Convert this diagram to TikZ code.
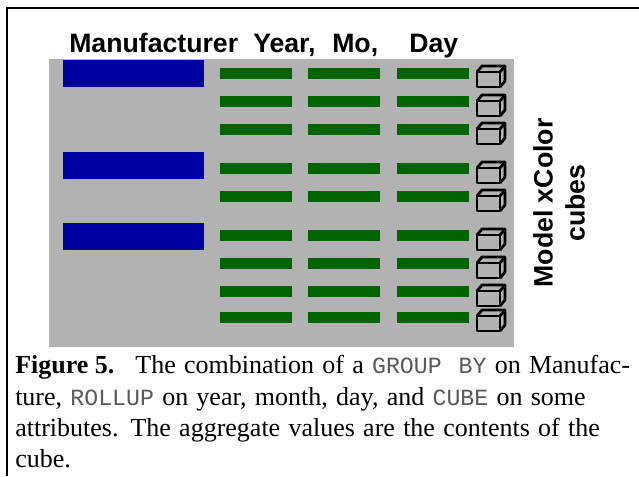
\documentclass[tikz,border=0pt]{standalone}
\usepackage{fontspec}
\setmainfont{Liberation Serif}
\setsansfont{Liberation Sans}
\setmonofont{Liberation Mono}
\usetikzlibrary{positioning}
\definecolor{panelgray}{RGB}{178,178,178}
\definecolor{mfrblue}{RGB}{0,0,160}
\definecolor{rollgreen}{RGB}{0,100,0}
\newcommand{\capfont}{\fontsize{19.5}{21}\selectfont\spaceskip=6.2pt\relax}
\tikzstyle{mfrbar} = [rectangle, minimum width=105.75pt, minimum height=19.8pt, inner sep=0pt, fill=mfrblue]
\tikzstyle{rollbar} = [rectangle, minimum width=54pt, minimum height=8pt, inner sep=0pt, fill=rollgreen]
\tikzstyle{heading} = [font=\sffamily\bfseries\fontsize{20}{22}\selectfont, inner sep=0pt]
\tikzstyle{sidelabel} = [font=\sffamily\bfseries\fontsize{20}{24}\selectfont, inner sep=0pt, rotate=90, align=center]
\tikzstyle{captionline} = [font=\capfont, inner sep=0pt, anchor=base west]
\tikzstyle{cubeline} = [line width=2.1pt, line join=round]
\newcommand{\codeword}[1]{{\ttfamily\fontsize{17.4}{18}\selectfont\color{black!65}#1}}
% front corner, width 23, height 15, depth (5,-6)
\newcommand{\cubeat}[1]{%
  \draw [cubeline] (477,#1) rectangle (500,#1+15);
  \draw [cubeline] (477,#1) -- (482,#1-6) -- (505,#1-6) -- (505,#1+9) -- (500,#1+15);
  \draw [cubeline] (500,#1) -- (505,#1-6);
}

\begin{document}
\begin{tikzpicture}[x=0.75pt, y=-0.75pt]
\useasboundingbox (0,0) rectangle (639,476);

% Frame and panel
\draw [line width=1.5pt] (7,476) -- (7,8) -- (639,8);
\fill [panelgray] (49,59) rectangle (514,347);

% Column headings
\node (manufacturer) [heading, anchor=base west] at (69,52) {Manufacturer};
\node (year) [heading, anchor=base west] at (253,52) {Year,};
\node (mo) [heading, anchor=base west] at (332,52) {Mo,};
\node (day) [heading, anchor=base west] at (409,52) {Day};

% Manufacturer bars
\node (mfr-a) [mfrbar, anchor=north west] at (63,60) {};
\node (mfr-b) [mfrbar, anchor=north west] at (63,152) {};
\node (mfr-c) [mfrbar, anchor=north west] at (63,223) {};

% Rollup bars and cubes
\foreach \rowy in {68,96,124,163,191,230,258,286,312} {
  \node [rollbar, anchor=north west] at (220,\rowy) {};
  \node [rollbar, anchor=north west] at (308,\rowy) {};
  \node [rollbar, anchor=north west] at (397,\rowy) {};
}
\foreach \cubey in {72,101,129,168,196,235,263,291,316} {
  \cubeat{\cubey}
}

% Side label
\node (cubes-label) [sidelabel] at (559,203) {Model xColor\\cubes};

% Caption
\node (cap-a) [captionline] at (15,373) {\textbf{Figure\hspace{0.25em}5.}\hspace{15.75pt}The combination of a \codeword{GROUP\hspace{12.75pt}BY} on Manufac-};
\node (cap-b) [captionline] at (15,405) {ture, \codeword{ROLLUP} on year, month, day, and \codeword{CUBE} on some};
\node (cap-c) [captionline] at (15,436) {attributes.\hspace{9pt}The aggregate values are the contents of the};
\node (cap-d) [captionline] at (15,467) {cube.};

\end{tikzpicture}
\end{document}
